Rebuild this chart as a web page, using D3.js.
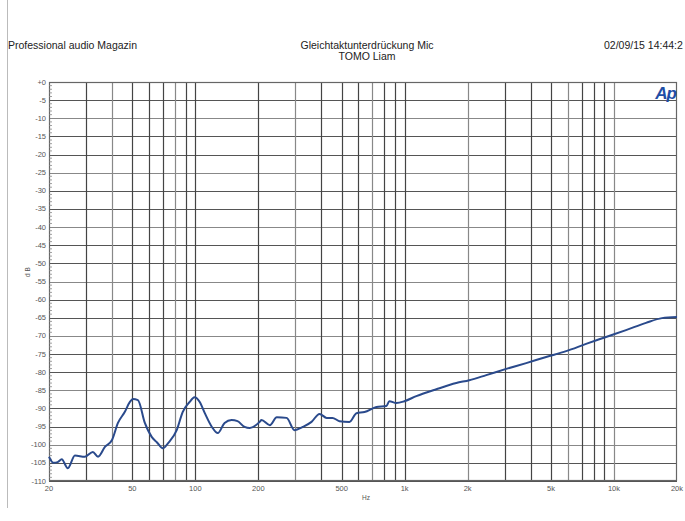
<!DOCTYPE html>
<html><head><meta charset="utf-8">
<script src="https://cdn.jsdelivr.net/npm/d3@7"></script>
<style>
html,body{margin:0;padding:0;background:#fff;}
svg{display:block;font-family:"Liberation Sans",Arial,sans-serif;}
</style></head>
<body><svg id="c" width="685" height="521"></svg>
<script>
const freqs = [20,21,22,23,24.6,26.6,29.7,32.4,34.3,37,40,42.7,46,48.7,50.3,53.2,57.4,62,65.5,70,74,81.5,87,94,99,105,111,120,128,138,149,159,172,182,203,207,227,245,273,298,326,359,392,424,452,488,545,589,643,733,818,845,913,997,1137,1417,1765,2035,2454,3056,3807,4742,5906,7357,9163,11414,14217,16946,20000];
const levels = [-103.3,-105,-104.8,-104,-106.5,-103,-103.3,-102,-103.3,-100.6,-98.7,-94,-91,-88.2,-87.4,-87.7,-94,-97.9,-99.3,-101,-99.6,-96,-91,-88.2,-86.9,-88.2,-91.3,-95.1,-96.8,-94,-93.2,-93.5,-95.1,-95.4,-93.7,-93.2,-94.6,-92.4,-92.6,-96,-95.1,-93.7,-91.5,-92.6,-92.6,-93.5,-93.7,-91.3,-91,-89.6,-89.3,-88,-88.5,-88,-86.6,-84.7,-83,-82.2,-80.8,-79.1,-77.5,-75.8,-74.2,-72.2,-70.3,-68.4,-66.4,-65.1,-64.8];
const xGrid = [30,40,50,60,70,80,90,100,200,300,400,500,600,700,800,900,1000,2000,3000,4000,5000,6000,7000,8000,9000,10000];
const xTickVals = [20,50,100,200,500,1000,2000,5000,10000,20000];
const xTickLabels = ["20","50","100","200","500","1k","2k","5k","10k","20k"];
const yTickVals = d3.range(0,-111,-5);
const yTickLabels = yTickVals.map(v => v===0 ? "+0" : String(v));

const svg = d3.select("#c");
const x = d3.scaleLog().domain([20,20000]).range([49,677]);
const y = d3.scaleLinear().domain([0,-110]).range([82,481]);

// page border
svg.append("line").attr("x1",7.5).attr("x2",7.5).attr("y1",0).attr("y2",508).attr("stroke","#bbb").attr("stroke-width",1);

// header texts
svg.append("text").attr("x",8).attr("y",49).attr("font-size",10.5).attr("fill","#222").text("Professional audio Magazin");
svg.append("text").attr("x",367).attr("y",49).attr("font-size",10.5).attr("fill","#222").attr("text-anchor","middle").text("Gleichtaktunterdrückung Mic");
svg.append("text").attr("x",367).attr("y",60).attr("font-size",10.5).attr("fill","#222").attr("text-anchor","middle").text("TOMO Liam");
svg.append("text").attr("x",604).attr("y",49).attr("font-size",10.5).attr("fill","#222").text("02/09/15 14:44:2");

// grid
const g = svg.append("g");
g.selectAll("line.h").data(yTickVals).enter().append("line")
  .attr("x1",49).attr("x2",677).attr("y1",d=>Math.round(y(d))+0.5).attr("y2",d=>Math.round(y(d))+0.5)
  .attr("stroke",(d,i)=> i%3===2 ? "#888" : "#555").attr("stroke-width",1.2);
g.selectAll("line.v").data(xGrid).enter().append("line")
  .attr("y1",82).attr("y2",481).attr("x1",d=>Math.round(x(d))+0.5).attr("x2",d=>Math.round(x(d))+0.5)
  .attr("stroke",(d,i)=> (i%4===1) ? "#888" : "#444").attr("stroke-width",1.2);
// frame
svg.append("rect").attr("x",49.5).attr("y",82.5).attr("width",627).attr("height",398)
  .attr("fill","none").attr("stroke","#666").attr("stroke-width",1.2);

// minor y ticks
svg.append("g").selectAll("line").data(d3.range(0,-111,-1)).enter().append("line")
  .attr("x1",49).attr("x2",d=> d%5===0 ? 49 : 52).attr("y1",d=>y(d)).attr("y2",d=>y(d))
  .attr("stroke","#888").attr("stroke-width",0.8);

// y labels
svg.append("g").selectAll("text").data(yTickVals).enter().append("text")
  .attr("x",46).attr("y",d=>y(d)+2.5).attr("text-anchor","end").attr("font-size",7.5).attr("fill","#555")
  .text((d,i)=>yTickLabels[i]);
// x labels
svg.append("g").selectAll("text").data(xTickVals).enter().append("text")
  .attr("x",d=>x(d)).attr("y",491).attr("text-anchor","middle").attr("font-size",7.5).attr("fill","#555")
  .text((d,i)=>xTickLabels[i]);
svg.append("text").attr("x",366).attr("y",500).attr("text-anchor","middle").attr("font-size",6.5).attr("fill","#555").text("Hz");
svg.append("text").attr("transform","translate(30,272) rotate(-90)").attr("text-anchor","middle").attr("font-size",6.5).attr("fill","#555").text("d B");

// curve
const line = d3.line().x((d,i)=>x(freqs[i])).y((d,i)=>y(levels[i])).curve(d3.curveMonotoneX);
svg.append("path").datum(levels).attr("d",line).attr("fill","none")
  .attr("stroke","#2a4a8c").attr("stroke-width",2).attr("stroke-linejoin","round");

// Ap logo
svg.append("text").attr("x",676).attr("y",99).attr("text-anchor","end").attr("font-size",17)
  .attr("font-weight","bold").attr("font-style","italic").attr("fill","#1f4ea6").attr("letter-spacing",-1).text("Ap");
</script></body></html>
